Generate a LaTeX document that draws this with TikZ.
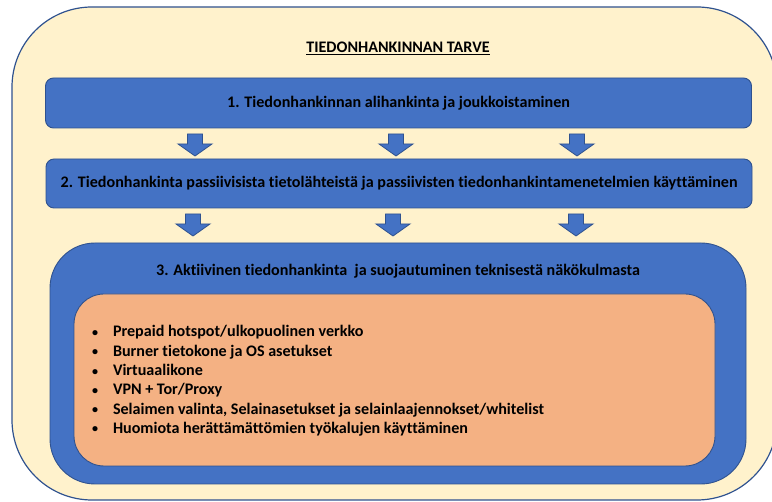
\documentclass[tikz,border=0pt]{standalone}
\usepackage{fontspec}
\setmainfont{Carlito}[Ligatures=NoCommon]
\definecolor{creamfill}{HTML}{FFF2CC}
\definecolor{edgeblue}{HTML}{2F528F}
\definecolor{stageblue}{HTML}{4472C4}
\definecolor{orangefill}{HTML}{F4B183}
\newcommand{\smallbullet}{\raisebox{0.5pt}{\scalebox{0.75}{\textbullet}}}
\tikzset{
  base/.style={inner sep=0pt, outer sep=0pt},
  outerbox/.style={base, draw=edgeblue, line width=1.2pt, fill=creamfill, rounded corners=80pt},
  stagebox/.style={base, draw=edgeblue, line width=0.9pt, fill=stageblue, rounded corners=8pt},
  bigstage/.style={base, draw=edgeblue, line width=0.9pt, fill=stageblue, rounded corners=45pt},
  listbox/.style={base, draw=edgeblue, line width=0.9pt, fill=orangefill, rounded corners=30pt},
  label/.style={base, font=\fontsize{16.1}{19}\selectfont\bfseries, text=black},
  item/.style={base, anchor=base west, font=\fontsize{16.1}{19}\selectfont\bfseries, text=black},
  arrowshape/.style={draw=edgeblue, line width=0.8pt, fill=stageblue, line join=miter},
  downarrow/.pic={\path[arrowshape] (-7.5,0) -- (7.5,0) -- (7.5,10) -- (17,10) -- (0,22) -- (-17,10) -- (-7.5,10) -- cycle;}
}
\begin{document}
\begin{tikzpicture}[x=1pt, y=-1pt]
  \useasboundingbox (0,0) rectangle (772,502);
  \begin{scope}
    \clip (0,0) rectangle (772,502);
    % outer container
    \node[outerbox, minimum width=765pt, minimum height=493pt] (outer) at (394.5,253.5) {};
  \end{scope}
  \node[label] (title) at (398,48) {\underline{TIEDONHANKINNAN TARVE}};

  % stage 1
  \node[stagebox, minimum width=706pt, minimum height=50pt] (s1) at (398.5,103) {};
  \node[label] (t1) at (s1.center) {1. Tiedonhankinnan alihankinta ja joukkoistaminen};

  % arrows 1 -> 2
  \pic at (195,134) {downarrow};
  \pic at (396,134) {downarrow};
  \pic at (577,134) {downarrow};

  % stage 2
  \node[stagebox, minimum width=706pt, minimum height=49pt] (s2) at (399,183.5) {};
  \node[label] (t2) at (s2.center) {2. Tiedonhankinta passiivisista tietolähteistä ja passiivisten tiedonhankintamenetelmien käyttäminen};

  % arrows 2 -> 3
  \pic at (193,214) {downarrow};
  \pic at (393,214) {downarrow};
  \pic at (576,214) {downarrow};

  % stage 3
  \node[bigstage, minimum width=696pt, minimum height=241pt] (s3) at (398,363.5) {};
  \node[label] (t3) at (398,271) {3. Aktiivinen tiedonhankinta\ \ ja suojautuminen teknisestä näkökulmasta};

  % list of measures
  \node[listbox, minimum width=641pt, minimum height=172pt] (list) at (394.5,380) {};
  \foreach \txt [count=\i] in {
    Prepaid hotspot/ulkopuolinen verkko,
    Burner tietokone ja OS asetukset,
    Virtuaalikone,
    VPN + Tor/Proxy,
    {Selaimen valinta, Selainasetukset ja selainlaajennokset/whitelist},
    Huomiota herättämättömien työkalujen käyttäminen}
    \node[item] (b\i) at (92,{337+19.3*(\i-1)}) {\makebox[21pt][l]{\smallbullet}\txt};
\end{tikzpicture}
\end{document}
